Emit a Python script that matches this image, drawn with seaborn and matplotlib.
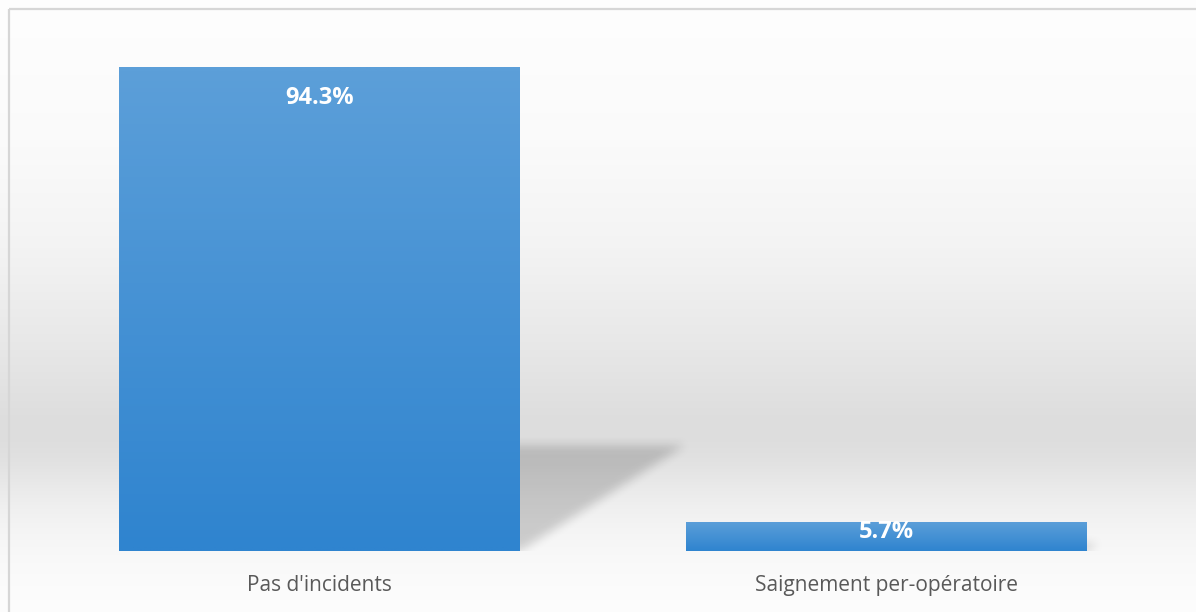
import numpy as np
import pandas as pd
import matplotlib
matplotlib.use("Agg")
import matplotlib.pyplot as plt
import seaborn as sns
from matplotlib.colors import to_rgb

# --- data ---------------------------------------------------------------
categories = ["Pas d'incidents", "Saignement per-opératoire"]
percentages = [94.3, 5.7]
value_labels = ["94.3%", "5.7%"]

df = pd.DataFrame({"categorie": categories, "pourcentage": percentages})

# --- style --------------------------------------------------------------
sns.set_theme(style="white")
plt.rcParams["font.family"] = ["Open Sans", "DejaVu Sans"]

W, H, DPI = 1196, 612, 100
BAR_TOP = "#5c9fd9"
BAR_BOTTOM = "#2f84cf"
TEXT_GREY = "#595959"
FRAME = "#d6d6d6"


def box_blur(a, r, axis):
    k = np.ones(2 * r + 1) / (2 * r + 1)
    return np.apply_along_axis(lambda v: np.convolve(v, k, mode="same"), axis, a)


fig = plt.figure(figsize=(W / DPI, H / DPI), dpi=DPI)

# soft grey "floor" behind the chart
bg = fig.add_axes([0, 0, 1, 1], zorder=-10)
bg.set_axis_off()
rows = np.arange(H)
stop_px = [0, 150, 250, 300, 350, 400, 430, 460, 490, 520, 560, 612]
stop_val = [254, 250, 243, 237, 231, 224, 220, 225, 235, 243, 249, 253]
grey = np.interp(rows, stop_px, stop_val)
grey = np.convolve(np.pad(grey, 15, mode="edge"), np.ones(31) / 31, mode="valid") / 255.0
bg_img = np.dstack([np.repeat(grey[:, None], 4, axis=1)] * 3)
bg.imshow(bg_img, extent=[0, 1, 0, 1], aspect="auto", origin="upper",
          interpolation="bilinear")
bg.set_xlim(0, 1)
bg.set_ylim(0, 1)
# chart frame (left and top edges)
bg.plot([8.5 / W, 8.5 / W], [0, 1 - 8.5 / H], color=FRAME, lw=1.6,
        solid_capstyle="butt")
bg.plot([8.5 / W, 1], [1 - 8.5 / H, 1 - 8.5 / H], color=FRAME, lw=1.6,
        solid_capstyle="butt")

# plot area
ax = fig.add_axes([36 / W, 61 / H, 1134 / W, 513 / H])
ax.patch.set_alpha(0)

sns.barplot(data=df, x="categorie", y="pourcentage", ax=ax, width=0.707,
            color=BAR_TOP, saturation=1, zorder=3)

ax.set_xlim(-0.5, 1.5)
ax.set_ylim(0, 100)

top_rgb = np.array(to_rgb(BAR_TOP))
bot_rgb = np.array(to_rgb(BAR_BOTTOM))
t = np.linspace(0, 1, 64)[:, None]
bar_grad = (top_rgb * (1 - t) + bot_rgb * t)[:, None, :]

px_per_x = ax.transData.transform((1, 0))[0] - ax.transData.transform((0, 0))[0]
px_per_y = ax.transData.transform((0, 1))[1] - ax.transData.transform((0, 0))[1]

for patch, label in zip(ax.patches, value_labels):
    x0, w, h = patch.get_x(), patch.get_width(), patch.get_height()
    x1 = x0 + w

    # perspective shadow thrown behind the bar onto the floor
    hs = 0.219 * h
    dx = 0.00308 * h
    ext = [x1 - 0.06, x1 + dx + 0.08, -3.0, hs + 5.0]
    nx = int((ext[1] - ext[0]) * px_per_x)
    ny = max(int((ext[3] - ext[2]) * px_per_y), 2)
    gx = np.linspace(ext[0], ext[1], nx)
    gy = np.linspace(ext[3], ext[2], ny)
    XX, YY = np.meshgrid(gx, gy)
    inside = (YY >= 0) & (YY <= hs)
    frac = np.clip(YY / hs, 0, 1) if hs > 0 else 0
    inside &= (XX >= x0 + dx * frac) & (XX <= x1 + dx * frac)
    mask = inside.astype(float)
    for _ in range(2):
        mask = box_blur(mask, 5, 1)
        mask = box_blur(mask, 5, 0)
    shade = np.zeros((ny, nx, 4))
    shade[..., 3] = mask * 0.17
    ax.imshow(shade, extent=ext, aspect="auto", origin="upper",
              interpolation="bilinear", zorder=1)

    # vertical blue gradient fill
    patch.set_facecolor("none")
    patch.set_edgecolor("none")
    im = ax.imshow(bar_grad, extent=[x0, x1, 0, h], aspect="auto",
                   origin="upper", interpolation="bilinear", zorder=3)
    im.set_clip_path(patch)

    # value label inside the top of the bar
    off = min(31.0, 0.35 * h * px_per_y)
    ax.annotate(label, xy=(x0 + w / 2, h), xytext=(0, -off),
                textcoords="offset pixels", ha="center", va="center",
                color="white", fontsize=17, fontweight="bold", zorder=5)

ax.set_xlim(-0.5, 1.5)
ax.set_ylim(0, 100)
ax.set_xlabel("")
ax.set_ylabel("")
ax.set_yticks([])
ax.tick_params(axis="x", length=0, pad=17, labelsize=15, labelcolor=TEXT_GREY)
for s in ax.spines.values():
    s.set_visible(False)

fig.savefig("out.png", dpi=DPI)
